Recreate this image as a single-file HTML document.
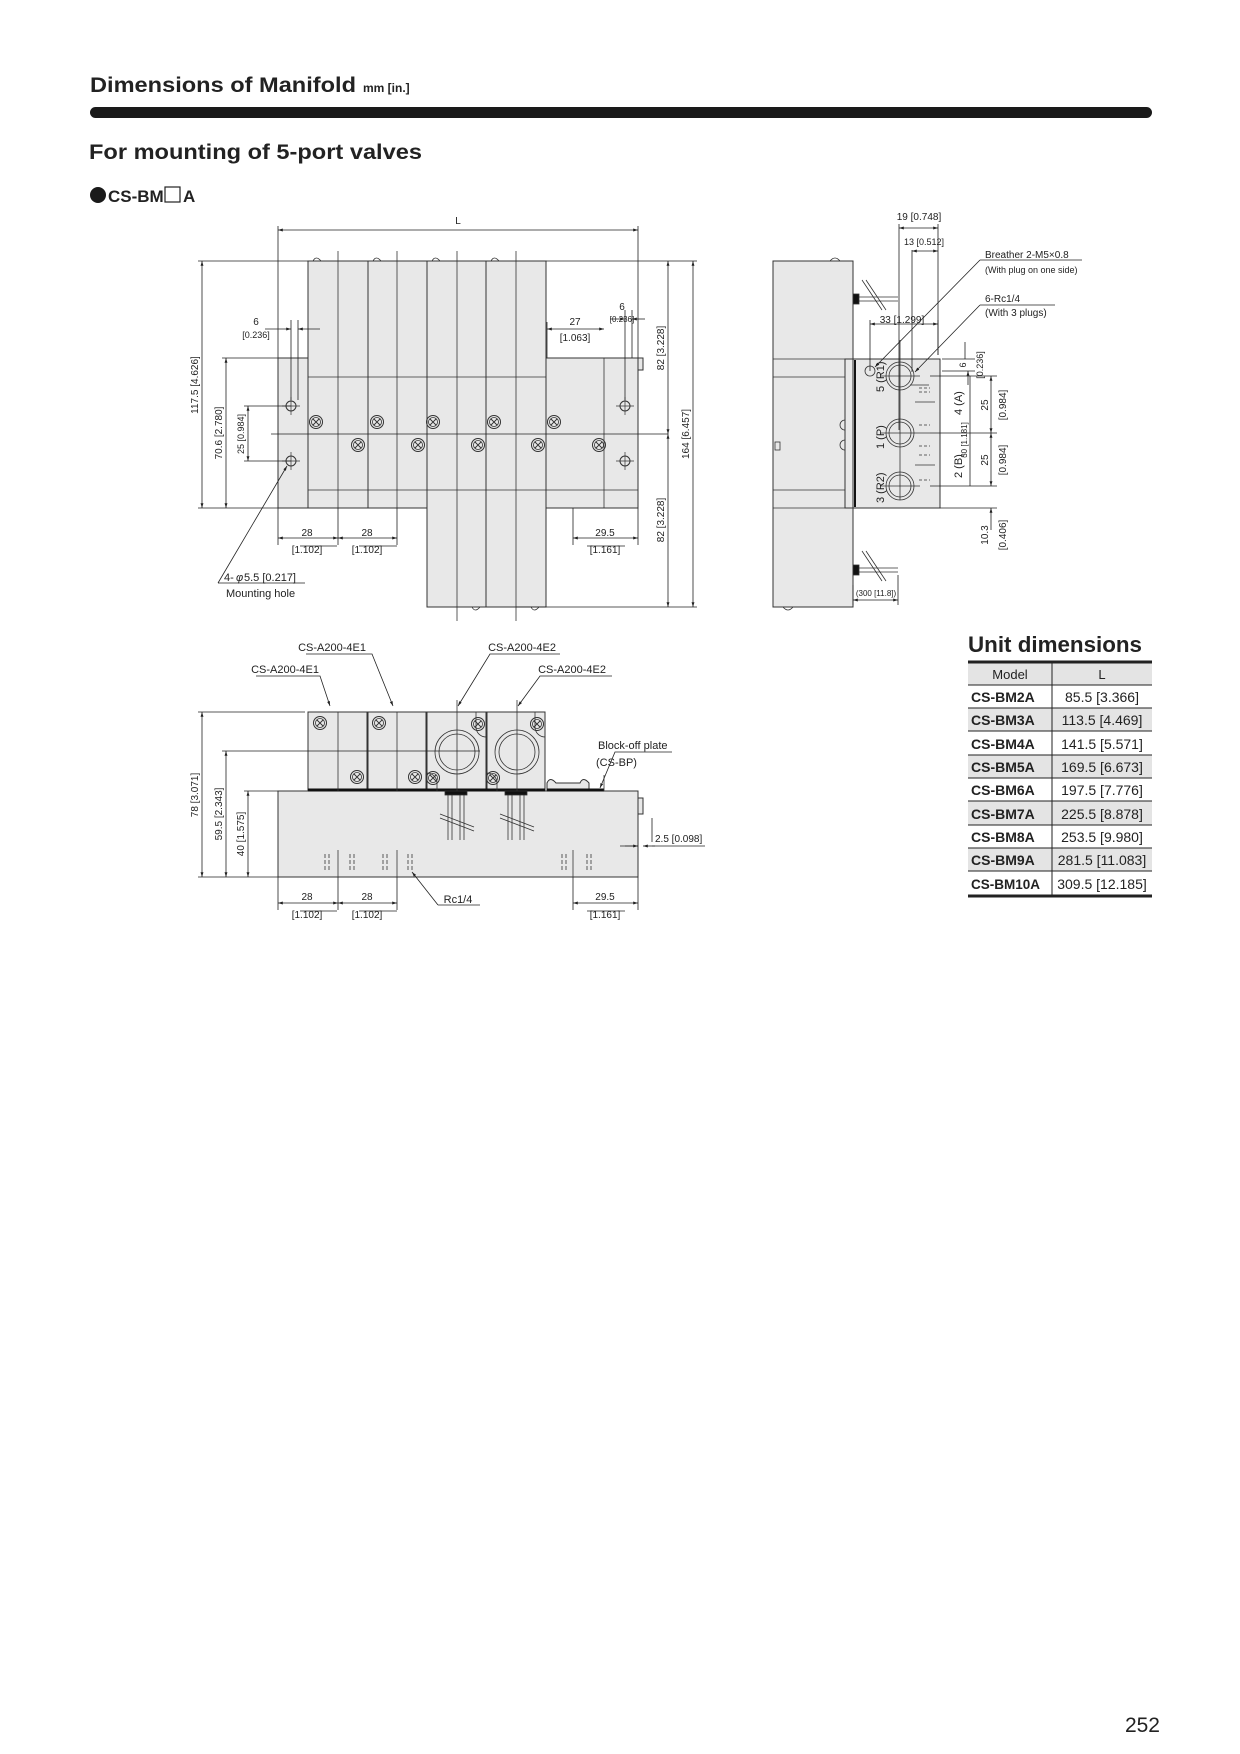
<!DOCTYPE html>
<html><head><meta charset="utf-8"><style>
html,body{margin:0;padding:0;background:#fff}
svg{display:block}
text{font-family:"Liberation Sans",sans-serif;fill:#222}
</style></head><body>
<svg width="1240" height="1754" viewBox="0 0 1240 1754" xmlns="http://www.w3.org/2000/svg">
<defs>
<marker id="a" viewBox="0 0 10 10" refX="10" refY="5" markerWidth="6" markerHeight="6" orient="auto-start-reverse"><path d="M0,2 L10,5 L0,8z" fill="#222"/></marker>
<g id="sc"><circle r="6.5" fill="none" stroke="#333" stroke-width="1"/><circle r="4.5" fill="none" stroke="#333" stroke-width="0.8"/><path d="M-3,-3 3,3 M-3,3 3,-3" stroke="#333" stroke-width="0.9"/></g>
<g id="mh"><circle r="5" fill="none" stroke="#333" stroke-width="1"/><path d="M-9,0 9,0 M0,-9 0,9" stroke="#333" stroke-width="0.7"/></g>
</defs>

<!-- Header -->
<text x="90" y="92" font-size="21" font-weight="bold" textLength="266" lengthAdjust="spacingAndGlyphs">Dimensions of Manifold</text>
<text x="363" y="92" font-size="12" font-weight="bold">mm [in.]</text>
<rect x="90" y="107" width="1062" height="11" rx="5.5" fill="#1a1a1a"/>
<text x="89" y="159" font-size="21" font-weight="bold" textLength="333" lengthAdjust="spacingAndGlyphs">For mounting of 5-port valves</text>
<circle cx="98" cy="195" r="8" fill="#1a1a1a"/>
<text x="108" y="202" font-size="17" font-weight="bold">CS-BM</text>
<rect x="165" y="187" width="15" height="15" fill="none" stroke="#222" stroke-width="1.2"/>
<text x="183" y="202" font-size="17" font-weight="bold">A</text>

<g stroke="#333" stroke-width="1" fill="#e8e8e8">
<!-- FRONT VIEW -->
<rect x="278" y="358" width="360" height="150"/>
<rect x="308" y="261" width="60" height="247"/>
<rect x="368" y="261" width="59" height="247"/>
<rect x="427" y="261" width="59" height="346"/>
<rect x="486" y="261" width="60" height="346"/>
<rect x="638" y="358" width="5" height="12"/>
</g>
<g stroke="#333" stroke-width="0.8" fill="none">
<path d="M308,377 H546 M308,490 H638 M338,261 V508 M397,261 V508 M457,261 V607 M516,261 V607 M338,251 V261 M397,251 V261 M457,251 V261 M516,251 V261 M457,607 V621 M516,607 V621 M604,358 V508"/>
<path d="M313,261 q3,-6 8,0 M373,261 q3,-6 8,0 M432,261 q3,-6 8,0 M491,261 q3,-6 8,0 M472,607 q3,6 8,0 M531,607 q3,6 8,0"/>
<path d="M271,434 H668" stroke="#222"/>
</g>
<use href="#mh" x="291" y="406"/><use href="#mh" x="291" y="461"/>
<use href="#mh" x="625" y="406"/><use href="#mh" x="625" y="461"/>
<use href="#sc" x="316" y="422"/><use href="#sc" x="377" y="422"/><use href="#sc" x="433" y="422"/><use href="#sc" x="494" y="422"/><use href="#sc" x="554" y="422"/>
<use href="#sc" x="358" y="445"/><use href="#sc" x="418" y="445"/><use href="#sc" x="478" y="445"/><use href="#sc" x="538" y="445"/><use href="#sc" x="599" y="445"/>

<g stroke="#222" stroke-width="0.8" fill="none">
<!-- L -->
<path d="M278,226 V358 M638,226 V358"/>
<path d="M278,230 H638" marker-start="url(#a)" marker-end="url(#a)"/>
<!-- left dims -->
<path d="M198,261 H308 M198,508 H278 M222,358 H278 M244,406 H291 M244,461 H291"/>
<path d="M202,261 V508" marker-start="url(#a)" marker-end="url(#a)"/>
<path d="M226,358 V508" marker-start="url(#a)" marker-end="url(#a)"/>
<path d="M248,406 V461" marker-start="url(#a)" marker-end="url(#a)"/>
<!-- right dims -->
<path d="M546,261 H697 M516,607 H697"/>
<path d="M668,261 V434" marker-start="url(#a)" marker-end="url(#a)"/>
<path d="M668,434 V607" marker-start="url(#a)" marker-end="url(#a)"/>
<path d="M693,261 V607" marker-start="url(#a)" marker-end="url(#a)"/>
<!-- 6 dims -->
<path d="M291,320 V400 M298,320 V400"/>
<path d="M265,329 H291" marker-end="url(#a)"/><path d="M320,329 H298" marker-end="url(#a)"/>
<path d="M625,310 V400 M632,310 V358"/>
<path d="M610,319 H625" marker-end="url(#a)"/><path d="M645,319 H632" marker-end="url(#a)"/>
<path d="M547,329 H604" marker-start="url(#a)" marker-end="url(#a)"/><path d="M547,322 V358"/>
<!-- bottom dims -->
<path d="M278,508 V545 M338,508 V545 M397,508 V545 M573,508 V545 M638,508 V545"/>
<path d="M278,538 H338" marker-start="url(#a)" marker-end="url(#a)"/>
<path d="M338,538 H397" marker-start="url(#a)" marker-end="url(#a)"/>
<path d="M573,538 H638" marker-start="url(#a)" marker-end="url(#a)"/>
<path d="M300,546 H337 M359,546 H397 M587,546 H625"/>
<path d="M218,583 L287,466" marker-end="url(#a)"/>
<path d="M218,583 H305"/>
</g>
<g font-size="10">
<text x="458" y="224" text-anchor="middle">L</text>
<text x="256" y="325" text-anchor="middle">6</text><text x="256" y="338" text-anchor="middle" font-size="9">[0.236]</text>
<text x="622" y="310" text-anchor="middle">6</text><text x="622" y="322" text-anchor="middle" font-size="8">[0.236]</text>
<text x="575" y="325" text-anchor="middle">27</text><text x="575" y="341" text-anchor="middle">[1.063]</text>
<text x="307" y="536" text-anchor="middle">28</text><text x="307" y="553" text-anchor="middle">[1.102]</text>
<text x="367" y="536" text-anchor="middle">28</text><text x="367" y="553" text-anchor="middle">[1.102]</text>
<text x="605" y="536" text-anchor="middle">29.5</text><text x="605" y="553" text-anchor="middle">[1.161]</text>
<text x="224" y="581" font-size="11">4-</text><text x="236" y="581" font-size="11" font-style="italic">φ</text><text x="244" y="581" font-size="11">5.5 [0.217]</text>
<text x="226" y="597" font-size="11">Mounting hole</text>
<text transform="translate(198,385) rotate(-90)" text-anchor="middle">117.5 [4.626]</text>
<text transform="translate(222,433) rotate(-90)" text-anchor="middle">70.6 [2.780]</text>
<text transform="translate(244,434) rotate(-90)" text-anchor="middle" font-size="9">25 [0.984]</text>
<text transform="translate(664,348) rotate(-90)" text-anchor="middle">82 [3.228]</text>
<text transform="translate(664,520) rotate(-90)" text-anchor="middle">82 [3.228]</text>
<text transform="translate(689,434) rotate(-90)" text-anchor="middle">164 [6.457]</text>
</g>

<!-- SIDE VIEW -->
<g stroke="#333" stroke-width="1" fill="#e8e8e8">
<rect x="773" y="261" width="80" height="346"/>
<rect x="853" y="359" width="87" height="149"/>
<rect x="845" y="359" width="8" height="149"/>
</g>
<g stroke="#333" stroke-width="0.8" fill="none">
<path d="M773,359 H853 M773,377 H845 M773,490 H845 M773,508 H853"/>
<path d="M830,261 q5,-6 10,0 M783,607 q5,6 10,0"/>
<path d="M855,360 V507" stroke="#111" stroke-width="2"/>
<rect x="775" y="442" width="5" height="8"/>
<path d="M845,420 a5,5 0 0 0 0,10 M845,440 a5,5 0 0 0 0,10"/>
<rect x="853" y="294" width="6" height="10" fill="#111"/><path d="M859,297 H898 M859,301 H898"/>
<rect x="853" y="565" width="6" height="10" fill="#111"/><path d="M859,568 H898 M859,572 H898"/>
<path d="M862,280 L882,310 M866,280 L886,310 M862,551 L882,581 M866,551 L886,581"/>
<circle cx="900" cy="376" r="14"/><circle cx="900" cy="376" r="11"/>
<circle cx="900" cy="433" r="14"/><circle cx="900" cy="433" r="11"/>
<circle cx="900" cy="486" r="14"/><circle cx="900" cy="486" r="11"/>
<circle cx="870" cy="371" r="5"/>
<path d="M880,376 H920 M880,433 H930 M880,486 H920 M900,356 V500 M900,360 V340 M910,385 H929 M915,402 H935 M915,465 H935"/>
<path d="M919,388 H930 M919,392 H930 M919,425 H930 M919,446 H930 M919,455 H930 M919,480 H930" stroke-dasharray="3,2"/>
</g>
<g stroke="#222" stroke-width="0.8" fill="none">
<path d="M899,224 V430 M938,224 V355 M912,250 V372"/>
<path d="M899,228 H938" marker-start="url(#a)" marker-end="url(#a)"/>
<path d="M912,251 H938" marker-start="url(#a)" marker-end="url(#a)"/>
<path d="M870,324 H938" marker-start="url(#a)" marker-end="url(#a)"/><path d="M870,320 V371 M938,320 V355"/>
<path d="M980,260 L875,367" marker-end="url(#a)"/><path d="M980,260 H1082"/>
<path d="M980,305 L915,372" marker-end="url(#a)"/><path d="M980,305 H1055"/>
<path d="M942,371 H975 M942,359 H975 M965,342 V359" /><path d="M968,385 V371" marker-end="url(#a)"/>
<path d="M930,376 H997 M930,433 H997 M930,486 H997 M940,508 H997"/>
<path d="M970,376 V486"/>
<path d="M991,376 V433" marker-start="url(#a)" marker-end="url(#a)"/>
<path d="M991,433 V486" marker-start="url(#a)" marker-end="url(#a)"/>
<path d="M991,530 V508" marker-end="url(#a)"/>
<path d="M853,585 V605 M898,575 V605"/>
<path d="M853,600 H898" marker-start="url(#a)" marker-end="url(#a)"/>
</g>
<g font-size="9">
<text x="919" y="220" text-anchor="middle" font-size="10">19 [0.748]</text>
<text x="924" y="245" text-anchor="middle">13 [0.512]</text>
<text x="985" y="258" font-size="10">Breather 2-M5×0.8</text>
<text x="985" y="273" font-size="9">(With plug on one side)</text>
<text x="985" y="302" font-size="10">6-Rc1/4</text>
<text x="985" y="316" font-size="10">(With 3 plugs)</text>
<text x="902" y="323" text-anchor="middle" font-size="10">33 [1.299]</text>
<text x="876" y="596" text-anchor="middle" font-size="8">(300 [11.8])</text>
<text transform="translate(884,392) rotate(-90)" font-size="11">5 (R1)</text>
<text transform="translate(884,449) rotate(-90)" font-size="11">1 (P)</text>
<text transform="translate(884,503) rotate(-90)" font-size="11">3 (R2)</text>
<text transform="translate(962,415) rotate(-90)" font-size="11">4 (A)</text>
<text transform="translate(962,478) rotate(-90)" font-size="11">2 (B)</text>
<text transform="translate(967,440) rotate(-90)" text-anchor="middle" font-size="8">30 [1.181]</text>
<text transform="translate(966,365) rotate(-90)" text-anchor="middle">6</text>
<text transform="translate(983,365) rotate(-90)" text-anchor="middle">[0.236]</text>
<text transform="translate(988,405) rotate(-90)" text-anchor="middle" font-size="10">25</text>
<text transform="translate(1006,405) rotate(-90)" text-anchor="middle" font-size="10">[0.984]</text>
<text transform="translate(988,460) rotate(-90)" text-anchor="middle" font-size="10">25</text>
<text transform="translate(1006,460) rotate(-90)" text-anchor="middle" font-size="10">[0.984]</text>
<text transform="translate(988,535) rotate(-90)" text-anchor="middle" font-size="10">10.3</text>
<text transform="translate(1006,535) rotate(-90)" text-anchor="middle" font-size="10">[0.406]</text>
</g>

<!-- BOTTOM VIEW -->
<g stroke="#333" stroke-width="1" fill="#e8e8e8">
<rect x="278" y="791" width="360" height="86"/>
<rect x="308" y="712" width="59" height="79"/>
<rect x="368" y="712" width="58" height="79"/>
<rect x="427" y="712" width="59" height="79"/>
<rect x="487" y="712" width="58" height="79"/>
<path d="M547,791 v-8 q3,-7 9,0 h24 q3,-7 9,0 v8z"/>
<rect x="638" y="798" width="5" height="16"/>
</g>
<g stroke="#333" stroke-width="0.8" fill="none">
<path d="M308,790 H545 M547,790 H604" stroke="#111" stroke-width="3"/>
<rect x="445" y="791" width="22" height="4" fill="#111"/><rect x="505" y="791" width="22" height="4" fill="#111"/>
<path d="M448,795 V840 M452,795 V840 M460,795 V840 M464,795 V840 M508,795 V840 M512,795 V840 M520,795 V840 M524,795 V840"/>
<path d="M440,814 L474,827 M440,818 L474,831 M500,814 L534,827 M500,818 L534,831"/>
<circle cx="457" cy="752" r="22"/><circle cx="457" cy="752" r="18"/>
<circle cx="517" cy="752" r="22"/><circle cx="517" cy="752" r="18"/>
<path d="M486,737 a10,10 0 0 1 -10,-10 V712 M545,737 a10,10 0 0 1 -10,-10 V712 M427,773 a10,10 0 0 1 10,10 V791 M487,773 a10,10 0 0 1 10,10 V791"/>
<path d="M325,870 V852 M329,870 V852 M350,870 V852 M354,870 V852 M383,870 V852 M387,870 V852 M408,870 V852 M412,870 V852 M562,870 V852 M566,870 V852 M587,870 V852 M591,870 V852" stroke-dasharray="4,2"/>
<path d="M338,712 V791 M338,850 V877 M397,712 V791 M397,850 V877 M457,700 V791 M517,700 V791 M573,850 V877 M604,775 V791"/>
</g>
<use href="#sc" x="320" y="723"/><use href="#sc" x="379" y="723"/><use href="#sc" x="357" y="777"/><use href="#sc" x="415" y="777"/>
<use href="#sc" x="478" y="724"/><use href="#sc" x="537" y="724"/><use href="#sc" x="433" y="778"/><use href="#sc" x="493" y="778"/>
<g stroke="#222" stroke-width="0.8" fill="none">
<path d="M198,712 H305 M222,751 H480 M244,791 H278 M198,877 H278"/>
<path d="M202,712 V877" marker-start="url(#a)" marker-end="url(#a)"/>
<path d="M226,751 V877" marker-start="url(#a)" marker-end="url(#a)"/>
<path d="M248,791 V877" marker-start="url(#a)" marker-end="url(#a)"/>
<path d="M278,877 V910 M338,877 V910 M397,877 V910 M573,877 V910 M638,877 V910"/>
<path d="M278,903 H338" marker-start="url(#a)" marker-end="url(#a)"/>
<path d="M338,903 H397" marker-start="url(#a)" marker-end="url(#a)"/>
<path d="M573,903 H638" marker-start="url(#a)" marker-end="url(#a)"/>
<path d="M300,911 H337 M359,911 H397 M587,911 H625 M438,905 H480"/>
<path d="M438,905 L412,872" marker-end="url(#a)"/>
<path d="M652,818 V842 M620,846 H638" /><path d="M655,846 H643" marker-end="url(#a)"/><path d="M625,846 H638" marker-end="url(#a)"/><path d="M652,846 H705"/>
<path d="M256,676 H320 L330,706" marker-end="url(#a)"/>
<path d="M306,654 H372 L393,706" marker-end="url(#a)"/>
<path d="M560,654 H490 L458,706" marker-end="url(#a)"/>
<path d="M612,676 H540 L518,706" marker-end="url(#a)"/>
<path d="M672,752 H615 L600,788" marker-end="url(#a)"/>
</g>
<g font-size="10">
<text x="332" y="651" text-anchor="middle" font-size="11">CS-A200-4E1</text>
<text x="522" y="651" text-anchor="middle" font-size="11">CS-A200-4E2</text>
<text x="285" y="673" text-anchor="middle" font-size="11">CS-A200-4E1</text>
<text x="572" y="673" text-anchor="middle" font-size="11">CS-A200-4E2</text>
<text x="598" y="749" font-size="11">Block-off plate</text>
<text x="596" y="766" font-size="11">(CS-BP)</text>
<text x="655" y="842">2.5 [0.098]</text>
<text x="458" y="903" text-anchor="middle" font-size="11">Rc1/4</text>
<text x="307" y="900" text-anchor="middle">28</text><text x="307" y="918" text-anchor="middle">[1.102]</text>
<text x="367" y="900" text-anchor="middle">28</text><text x="367" y="918" text-anchor="middle">[1.102]</text>
<text x="605" y="900" text-anchor="middle">29.5</text><text x="605" y="918" text-anchor="middle">[1.161]</text>
<text transform="translate(198,795) rotate(-90)" text-anchor="middle">78 [3.071]</text>
<text transform="translate(222,814) rotate(-90)" text-anchor="middle">59.5 [2.343]</text>
<text transform="translate(244,834) rotate(-90)" text-anchor="middle">40 [1.575]</text>
</g>

<!-- TABLE -->
<text x="968" y="652" font-size="22" font-weight="bold" textLength="174" lengthAdjust="spacingAndGlyphs">Unit dimensions</text>
<rect x="968" y="661" width="184" height="24" fill="#e4e4e4"/>
<rect x="968" y="708" width="184" height="23" fill="#e4e4e4"/>
<rect x="968" y="755" width="184" height="23" fill="#e4e4e4"/>
<rect x="968" y="801" width="184" height="24" fill="#e4e4e4"/>
<rect x="968" y="848" width="184" height="23" fill="#e4e4e4"/>
<g stroke="#222" fill="none">
<path d="M968,662 H1152 M968,896 H1152" stroke-width="3"/>
<path d="M968,685 H1152 M968,708 H1152 M968,731 H1152 M968,755 H1152 M968,778 H1152 M968,801 H1152 M968,825 H1152 M968,848 H1152 M968,871 H1152" stroke-width="1"/>
<path d="M1052,662 V895" stroke-width="1"/>
</g>
<g font-size="14">
<text x="1010" y="679" text-anchor="middle" font-size="13">Model</text>
<text x="1102" y="679" text-anchor="middle" font-size="13">L</text>
<g font-weight="bold">
<text x="971" y="702">CS-BM2A</text><text x="971" y="725">CS-BM3A</text><text x="971" y="749">CS-BM4A</text>
<text x="971" y="772">CS-BM5A</text><text x="971" y="795">CS-BM6A</text><text x="971" y="819">CS-BM7A</text>
<text x="971" y="842">CS-BM8A</text><text x="971" y="865">CS-BM9A</text><text x="971" y="889" font-size="13.5">CS-BM10A</text>
</g>
<g text-anchor="middle">
<text x="1102" y="702">85.5 [3.366]</text><text x="1102" y="725">113.5 [4.469]</text><text x="1102" y="749">141.5 [5.571]</text>
<text x="1102" y="772">169.5 [6.673]</text><text x="1102" y="795">197.5 [7.776]</text><text x="1102" y="819">225.5 [8.878]</text>
<text x="1102" y="842">253.5 [9.980]</text><text x="1102" y="865">281.5 [11.083]</text><text x="1102" y="889">309.5 [12.185]</text>
</g>
</g>

<text x="1160" y="1732" font-size="21" text-anchor="end">252</text>
</svg>
</body></html>
